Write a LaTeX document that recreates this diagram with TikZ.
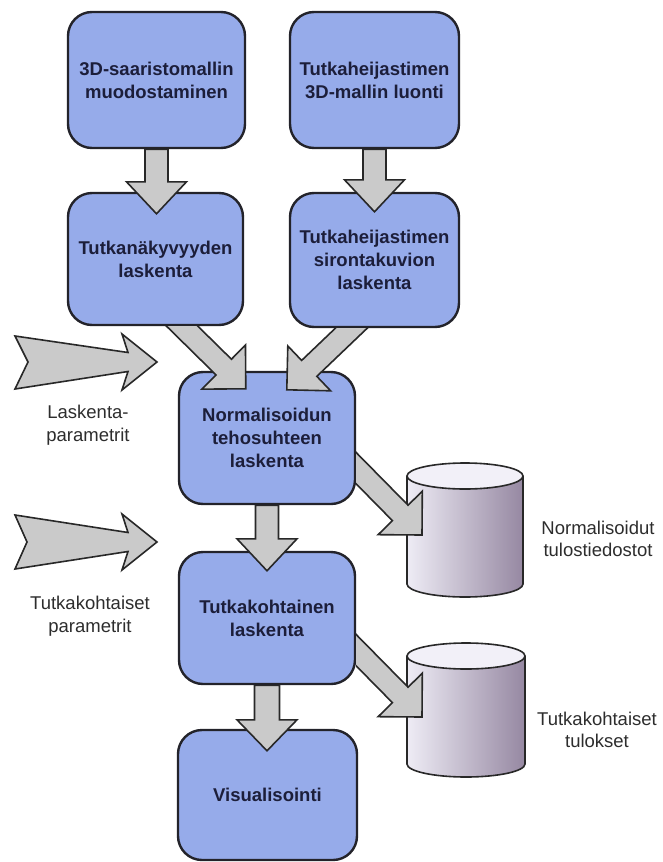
\documentclass[tikz,border=0pt]{standalone}
\usepackage{fontspec}
\setmainfont{Liberation Sans}
\usetikzlibrary{calc}
\definecolor{boxblue}{RGB}{150,171,234}
\definecolor{boxline}{RGB}{35,35,42}
\definecolor{boxtext}{RGB}{28,30,58}
\definecolor{arrfill}{RGB}{202,202,202}
\definecolor{arrline}{RGB}{40,40,40}
\definecolor{labeltext}{RGB}{45,45,45}
\definecolor{cylL}{RGB}{238,236,245}
\definecolor{cylM}{RGB}{196,186,208}
\definecolor{cylR}{RGB}{150,136,162}
\definecolor{cyltop}{RGB}{242,240,248}
\tikzset{
  procbox/.style={draw=boxline, line width=2.4pt, fill=boxblue, rounded corners=24pt,
    align=center, text=boxtext, inner sep=0pt,
    font=\fontsize{18.5}{23}\selectfont\bfseries},
  barrow/.style={draw=arrline, line width=1.6pt, fill=arrfill, line join=miter},
  extlabel/.style={align=center, text=labeltext, inner sep=0pt,
    font=\fontsize{18.5}{22.5}\selectfont},
  cylline/.style={draw=arrline, line width=1.6pt},
  anchorbox/.style={inner sep=0pt, outer sep=0pt},
}
% block arrow: start, tip, shaft width, head width, head length
\newcommand{\blockarrow}[5]{%
  \coordinate (bH) at ($(#2)!#5pt!(#1)$);
  \draw[barrow] ($(#1)!0.5*#3pt!90:(#2)$) -- ($(bH)!0.5*#3pt!90:(#2)$)
    -- ($(bH)!0.5*#4pt!90:(#2)$) -- (#2) -- ($(bH)!0.5*#4pt!-90:(#2)$)
    -- ($(bH)!0.5*#3pt!-90:(#2)$) -- ($(#1)!0.5*#3pt!-90:(#2)$) -- cycle;
}
\begin{document}
\begin{tikzpicture}[x=1pt,y=-1pt]
\fill[white] (0,0) rectangle (662,862);
\useasboundingbox (0,0) rectangle (662,862);

% process boxes
\node[procbox, minimum width=177pt, minimum height=136pt] (B1) at (156.5,80) {3D-saaristomallin\\muodostaminen};
\node[procbox, minimum width=169pt, minimum height=136pt] (B2) at (374.5,80) {Tutkaheijastimen\\3D-mallin luonti};
\node[procbox, minimum width=175pt, minimum height=132pt] (B3) at (155.5,259) {Tutkanäkyvyyden\\laskenta};
\node[procbox, minimum width=169pt, minimum height=134pt] (B4) at (374.5,260) {Tutkaheijastimen\\sirontakuvion\\laskenta};
\node[procbox, minimum width=176pt, minimum height=132pt] (B5) at (267,438) {Normalisoidun\\tehosuhteen\\laskenta};
\node[procbox, minimum width=176pt, minimum height=132pt] (B6) at (267,618) {Tutkakohtainen\\laskenta};
\node[procbox, minimum width=179pt, minimum height=130pt] (B7) at (267.5,795) {Visualisointi};

% databases (cylinders)
\node[anchorbox, minimum width=116pt, minimum height=134pt] (C1) at (465,530) {};
\shade[left color=cylL, middle color=cylM, right color=cylR]
  (407,476) -- (407,584) arc[start angle=180, end angle=360, x radius=58pt, y radius=13pt] -- (523,476) -- cycle;
\draw[cylline] (407,476) -- (407,584) arc[start angle=180, end angle=360, x radius=58pt, y radius=13pt] -- (523,476);
\draw[cylline, fill=cyltop] (465,476) ellipse [x radius=58pt, y radius=13pt];

\node[anchorbox, minimum width=118pt, minimum height=134pt] (C2) at (466,710) {};
\shade[left color=cylL, middle color=cylM, right color=cylR]
  (407,656) -- (407,764) arc[start angle=180, end angle=360, x radius=59pt, y radius=13pt] -- (525,656) -- cycle;
\draw[cylline] (407,656) -- (407,764) arc[start angle=180, end angle=360, x radius=59pt, y radius=13pt] -- (525,656);
\draw[cylline, fill=cyltop] (466,656) ellipse [x radius=59pt, y radius=13pt];

% labels
\node[extlabel] (L1) at (88,425) {Laskenta-\\parametrit};
\node[extlabel] (L2) at (90,616) {Tutkakohtaiset\\parametrit};
\node[extlabel] (L3) at (598,539) {Normalisoidut\\tulostiedostot};
\node[extlabel] (L4) at (597,730) {Tutkakohtaiset\\tulokset};

% input arrows (notched)
\draw[barrow] (15,336) -- (128,352.5) -- (122,334) -- (157,362) -- (122,390) -- (128,371.5) -- (15,389) -- (28,362) -- cycle;
\draw[barrow] (15,515) -- (128,532.5) -- (122,514) -- (157,542) -- (122,570) -- (128,551.5) -- (15,569) -- (27,542) -- cycle;

% connector end points
\coordinate (v1t) at ($(B1.south |- B3.north)+(0,22)$);
\coordinate (v2t) at ($(B2.south |- B4.north)+(0,20)$);
\coordinate (v3t) at ($(B5.south |- B6.north)+(0,20)$);
\coordinate (v4t) at ($(B6.south |- B7.north)+(0,22)$);
\coordinate (d1s) at ($(B3.south)+(11.5,-15)$);
\coordinate (d1t) at ($(B5.north west)+(68,18)$);
\coordinate (d2s) at ($(B4.south)+(-7.5,-15)$);
\coordinate (d2t) at ($(B5.north west)+(109,19)$);
\coordinate (d3s) at ($(B5.east)+(-15,15)$);
\coordinate (d3t) at ($(C1.west)+(15,5)$);
\coordinate (d4s) at ($(B6.east)+(-15,17)$);
\coordinate (d4t) at ($(C2.west)+(15,7)$);

% block arrows
\begin{scope}\clip (0,149.2) rectangle (662,862); \blockarrow{B1.south}{v1t}{23}{60}{32}\end{scope}
\begin{scope}\clip (0,149.2) rectangle (662,862); \blockarrow{B2.south}{v2t}{23}{60}{32}\end{scope}
\begin{scope}\clip (0,326.2) rectangle (662,862); \blockarrow{d1s}{d1t}{22}{62}{31}\end{scope}
\begin{scope}\clip (0,328.2) rectangle (662,862); \blockarrow{d2s}{d2t}{22}{62}{31}\end{scope}
\begin{scope}\clip (0,505.2) rectangle (662,862); \blockarrow{B5.south}{v3t}{23}{60}{32}\end{scope}
\begin{scope}\clip (356.2,0) rectangle (662,862); \blockarrow{d3s}{d3t}{22}{62}{31}\end{scope}
\begin{scope}\clip (0,685.2) rectangle (662,862); \blockarrow{B6.south}{v4t}{25}{60}{31}\end{scope}
\begin{scope}\clip (356.2,0) rectangle (662,862); \blockarrow{d4s}{d4t}{22}{62}{31}\end{scope}
\end{tikzpicture}
\end{document}
